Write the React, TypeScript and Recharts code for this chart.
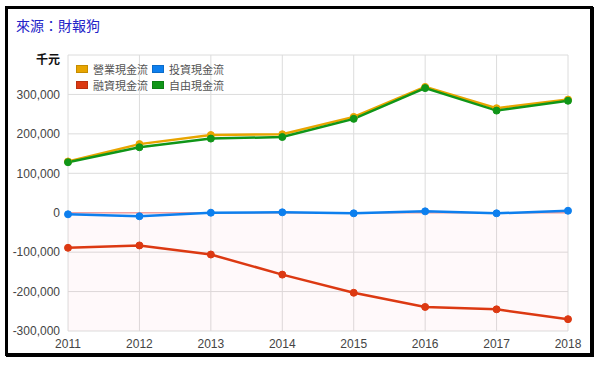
import React from 'react';
import {
  LineChart, Line, XAxis, YAxis, CartesianGrid, ReferenceArea, ReferenceLine,
} from 'recharts';

const years = ['2011', '2012', '2013', '2014', '2015', '2016', '2017', '2018'];
const operating = [130000, 174000, 197000, 199000, 243000, 319000, 265000, 287000];
const investing = [-4000, -9000, 0, 1000, -1500, 3500, -1500, 5000];
const financing = [-89000, -83000, -106000, -157000, -203000, -239000, -245000, -270000];
const freeCash = [128000, 166000, 188000, 192000, 238000, 316000, 259000, 284000];
const yTicks = [-300000, -200000, -100000, 0, 100000, 200000, 300000, 400000];

const seriesNames = ['營業現金流', '投資現金流', '融資現金流', '自由現金流'];
const seriesKeys = ['op', 'inv', 'fin', 'fcf'];
const colors = ['#e8a500', '#0d7fee', '#dc3912', '#109618'];

const data = years.map((y, i) => ({
  year: y,
  op: operating[i],
  inv: investing[i],
  fin: financing[i],
  fcf: freeCash[i],
}));

const FONT = 'Arial, "Liberation Sans", "Noto Sans CJK TC", sans-serif';
const CJK = '"Noto Sans CJK TC", "Noto Sans CJK SC", sans-serif';

const YTick = (props: any) => {
  const { x, y, payload } = props;
  if (payload.value === 400000) {
    return (
      <text x={x} y={y + 5} dy="0.355em" textAnchor="end" fontSize={12} fontWeight="bold"
        fill="#111" fontFamily={CJK}>千元</text>
    );
  }
  return (
    <text x={x} y={y} dy="0.355em" textAnchor="end" fontSize={12} fill="#444" fontFamily={FONT}>
      {payload.value.toLocaleString('en-US')}
    </text>
  );
};

const LegendBox = () => (
  <div style={{
    position: 'absolute', left: 76, top: 62, display: 'grid',
    gridTemplateColumns: '76px 80px', rowGap: 2, fontFamily: CJK,
  }}>
    {[0, 1, 2, 3].map((i) => (
      <div key={i} style={{ display: 'flex', alignItems: 'center', height: 14, whiteSpace: 'nowrap' }}>
        <span style={{
          display: 'inline-block', width: 10, height: 6, background: colors[i],
          border: '1px solid rgba(0,0,0,0.15)', marginRight: 5,
        }} />
        <span style={{ fontSize: 11, color: '#555', lineHeight: '14px' }}>{seriesNames[i]}</span>
      </div>
    ))}
  </div>
);

export default function App() {
  return (
    <div style={{ position: 'absolute', left: 0, top: 0, width: 600, height: 365, background: '#fff' }}>
      <div style={{
        position: 'absolute', left: 5, top: 6, width: 588, height: 350,
        border: '3px solid #000', boxSizing: 'border-box', boxShadow: '1px 1px 0 #000',
      }} />
      <div style={{
        position: 'absolute', left: 16, top: 15, fontSize: 14, color: '#2323c8',
        fontFamily: CJK, lineHeight: '20px',
      }}>來源：財報狗</div>
      <div style={{ position: 'absolute', left: 0, top: 0 }}>
        <LineChart width={600} height={365} data={data}
          margin={{ top: 55, right: 32, bottom: 4, left: 0 }}>
          <ReferenceArea y1={-300000} y2={0} fill="#ff4d6d" fillOpacity={0.035} stroke="none" />
          <CartesianGrid stroke="#dcdcdc" />
          <ReferenceLine y={0} stroke="#f2a0a0" strokeWidth={1.5} />
          <XAxis dataKey="year" axisLine={false} tickLine={false} height={30}
            tick={{ fontSize: 12, fill: '#444', fontFamily: FONT }} interval={0} />
          <YAxis width={68} domain={[-300000, 400000]} ticks={yTicks} axisLine={false}
            tickLine={false} tick={<YTick />} interval={0} />
          {seriesKeys.map((k, i) => (
            <Line key={k} type="linear" dataKey={k} name={seriesNames[i]} stroke={colors[i]}
              strokeWidth={2.5} dot={{ r: 3.5, fill: colors[i], stroke: colors[i], strokeWidth: 1 }}
              activeDot={false} isAnimationActive={false} />
          ))}
        </LineChart>
      </div>
      <LegendBox />
    </div>
  );
}
